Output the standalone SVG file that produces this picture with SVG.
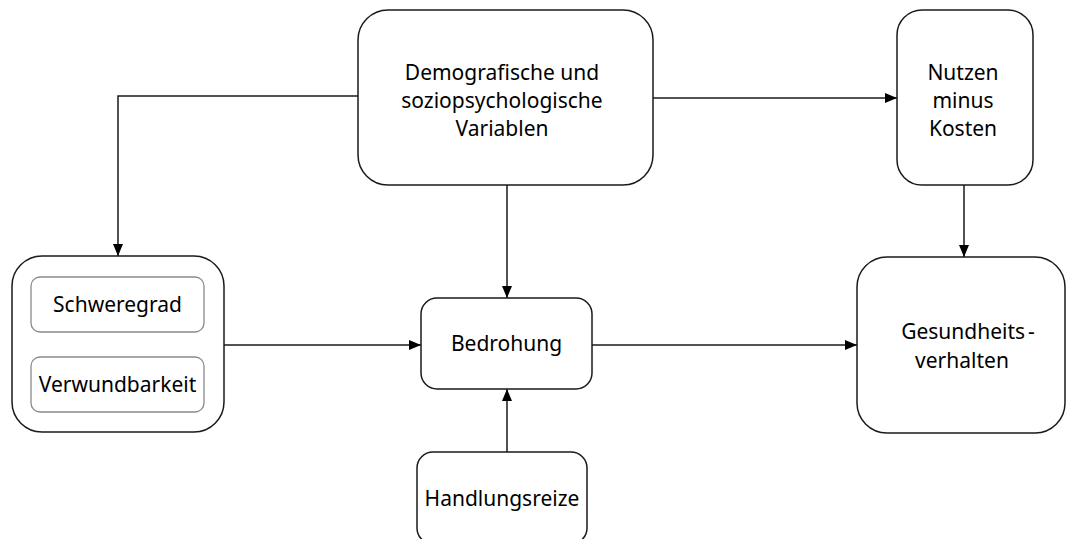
<svg xmlns="http://www.w3.org/2000/svg" width="1067" height="539" viewBox="0 0 1067 539">
<style>
.box{fill:#fff;stroke:#1a1a1a;stroke-width:1.5}
.inner{fill:#fff;stroke:#8a8a8a;stroke-width:1.3}
.lbl{font-family:"Noto Sans","Open Sans",sans-serif;font-size:21px;fill:#000;text-anchor:middle}
.conn{fill:none;stroke:#1a1a1a;stroke-width:1.5}
</style>
<defs>
<marker id="arr" viewBox="0 0 12 10" refX="12" refY="5" markerWidth="12" markerHeight="10" markerUnits="userSpaceOnUse" orient="auto">
<path d="M0,0 L12,5 L0,10 Z" fill="#000"/>
</marker>
</defs>
<g id="connectors">
<path class="conn" d="M358,96 H118 V256" marker-end="url(#arr)"/>
<path class="conn" d="M653,98 H897" marker-end="url(#arr)"/>
<path class="conn" d="M507,185 V298" marker-end="url(#arr)"/>
<path class="conn" d="M224,345 H421" marker-end="url(#arr)"/>
<path class="conn" d="M592,345 H857" marker-end="url(#arr)"/>
<path class="conn" d="M507,452 V389" marker-end="url(#arr)"/>
<path class="conn" d="M964,185 V257" marker-end="url(#arr)"/>
</g>
<g id="demografische">
<rect class="box" x="358" y="10" width="295" height="175" rx="30"/>
<text class="lbl" x="502" y="80">Demografische und</text>
<text class="lbl" x="502" y="108">soziopsychologische</text>
<text class="lbl" x="502" y="136">Variablen</text>
</g>
<g id="nutzen">
<rect class="box" x="897" y="10" width="136" height="175" rx="25"/>
<text class="lbl" x="963" y="80">Nutzen</text>
<text class="lbl" x="963" y="108">minus</text>
<text class="lbl" x="963" y="136">Kosten</text>
</g>
<g id="wahrnehmung">
<rect class="box" x="12" y="256" width="212" height="176" rx="30"/>
<g id="schweregrad">
<rect class="inner" x="31" y="277" width="173" height="55" rx="9"/>
<text class="lbl" x="117.5" y="312">Schweregrad</text>
</g>
<g id="verwundbarkeit">
<rect class="inner" x="31" y="357" width="173" height="55" rx="9"/>
<text class="lbl" x="117.5" y="392">Verwundbarkeit</text>
</g>
</g>
<g id="bedrohung">
<rect class="box" x="421" y="298" width="171" height="91" rx="16"/>
<text class="lbl" x="506.5" y="351">Bedrohung</text>
</g>
<g id="handlungsreize">
<rect class="box" x="417" y="452" width="170" height="92" rx="16"/>
<text class="lbl" x="502" y="506">Handlungsreize</text>
</g>
<g id="gesundheitsverhalten">
<rect class="box" x="857" y="257" width="208" height="176" rx="30"/>
<text class="lbl" x="968" y="339">Gesundheits<tspan dx="3">-</tspan></text>
<text class="lbl" x="962" y="368">verhalten</text>
</g>
</svg>
